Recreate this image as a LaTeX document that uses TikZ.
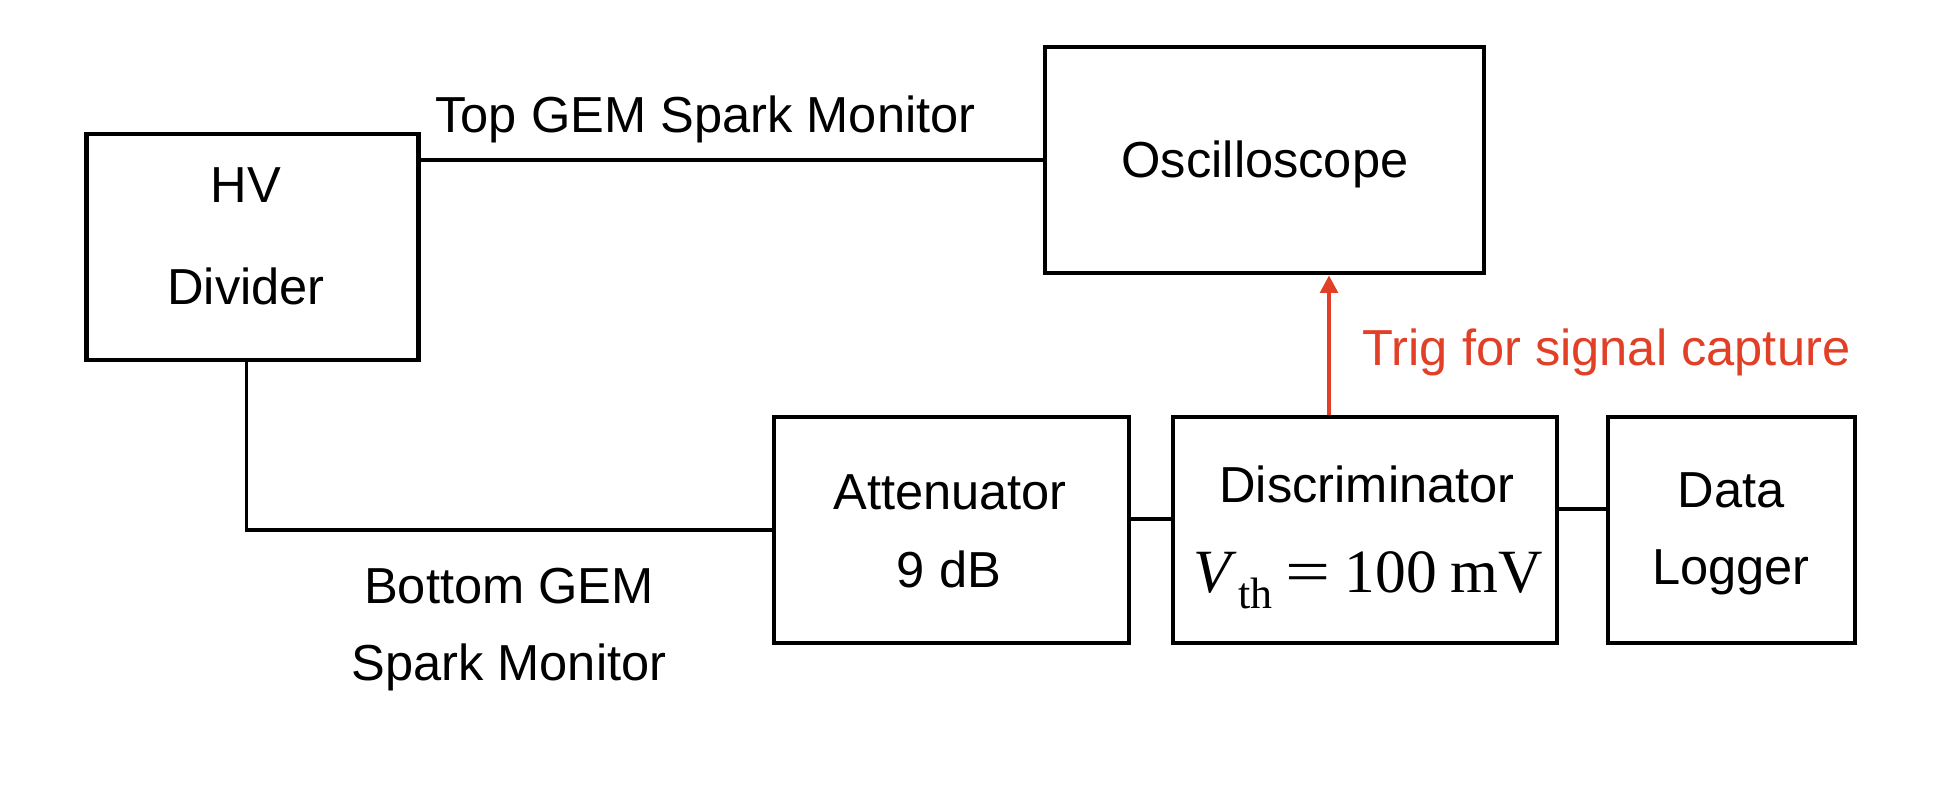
\documentclass[tikz,border=0pt]{standalone}
\usepackage{fontspec}
\setmainfont{Liberation Sans}
\newfontfamily\tms{Liberation Serif}
\usetikzlibrary{arrows.meta,calc}
\definecolor{trigred}{RGB}{226,63,39}
\begin{document}
\begin{tikzpicture}[x=1cm,y=1cm,
  box/.style={draw,line width=1.35pt,inner sep=0pt},
  wire/.style={line width=1pt},
  lbl/.style={anchor=base,inner sep=0pt,font=\fontsize{14.4}{17}\selectfont},
  trig/.style={trigred,line width=1.1pt,-{Triangle[length=5pt,width=5pt]}}]
\useasboundingbox (0,0) rectangle (19.42,8.02);
% boxes
\node[box,minimum width=3.32cm,minimum height=2.26cm] (hv)   at (2.525,5.55) {};
\node[box,minimum width=4.39cm,minimum height=2.26cm] (osc)  at (12.645,6.42) {};
\node[box,minimum width=3.55cm,minimum height=2.26cm] (att)  at (9.515,2.72) {};
\node[box,minimum width=3.84cm,minimum height=2.26cm] (disc) at (13.65,2.72) {};
\node[box,minimum width=2.47cm,minimum height=2.26cm] (data) at (17.315,2.72) {};
% box texts
\node[lbl] (hvA)   at (2.46,5.99) {HV};
\node[lbl] (hvB)   at (2.46,4.97) {Divider};
\node[lbl] (oscL)  at (12.65,6.24) {Oscilloscope};
\node[lbl] (attA)  at (9.50,2.92) {Attenuator};
\node[lbl] (attB)  at (9.49,2.15) {9 dB};
\node[lbl] (discA) at (13.67,3.00) {Discriminator};
\node[lbl] (discB) at (13.68,2.09) {\tms\fontsize{17.5}{20}\selectfont\textit{V}\kern0.02em\raisebox{-0.25em}{\fontsize{12.5}{14}\selectfont th}\hspace{0.22em}\scalebox{1.3}[1]{=}\hspace{0.22em}100\hspace{0.22em}mV};
\node[lbl] (dataA) at (17.31,2.94) {Data};
\node[lbl] (dataB) at (17.31,2.17) {Logger};
% connector labels
\node[lbl] (topL)  at (7.055,6.69) {Top GEM Spark Monitor};
\node[lbl] (botA)  at (5.09,1.99) {Bottom GEM};
\node[lbl] (botB)  at (5.09,1.22) {Spark Monitor};
\node[lbl,anchor=base west,text=trigred] (trigL) at (13.62,4.37) {Trig for signal capture};
% connectors
\draw[wire] (hv.east |- osc.west) -- (osc.west);
\draw[wire] ([xshift=-0.06cm]hv.south) |- (att.west);
\draw[wire] ([yshift=0.11cm]att.east) -- ([yshift=0.11cm]disc.west);
\draw[wire] ([yshift=0.21cm]disc.east) -- ([yshift=0.21cm]data.west);
\coordinate (ts) at ([xshift=-0.36cm]disc.north);
\draw[trig] (ts) -- (ts |- osc.south);
\end{tikzpicture}
\end{document}
